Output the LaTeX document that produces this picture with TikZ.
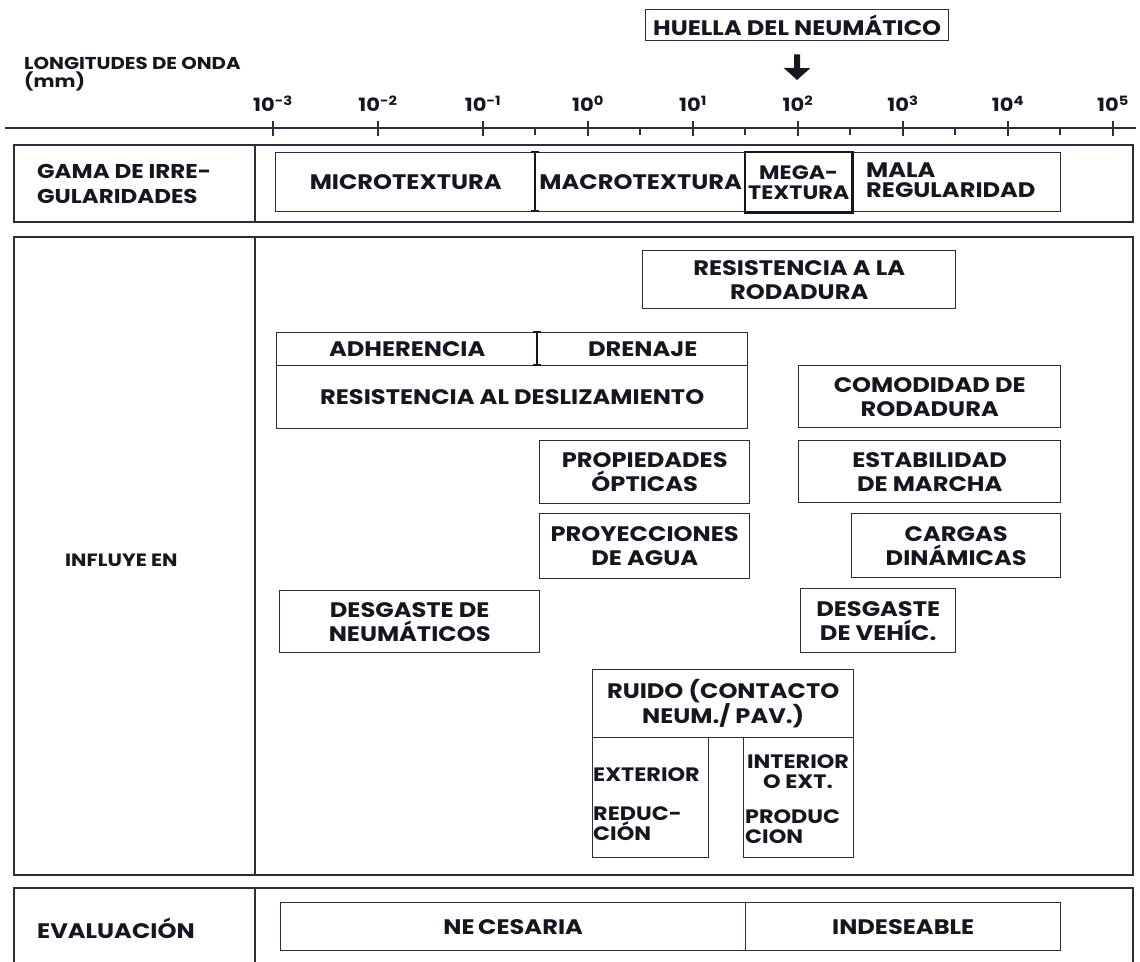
\documentclass[tikz,border=0pt]{standalone}
\usepackage{fontspec}
\setmainfont{Poppins}[FakeStretch=1.15]
\usetikzlibrary{arrows.meta}
\definecolor{ink}{RGB}{22,22,32}
\definecolor{rule}{RGB}{45,45,62}
\newcommand\mkbox[6]{\node[box, minimum width={#4pt-#2pt}, minimum height={#5pt-#3pt}] (#1) at (#2,#3) {#6};}
\begin{document}
\begin{tikzpicture}[x=1pt,y=-1pt,
  txt/.style={text=ink, font=\fontsize{21}{24}\selectfont\bfseries, inner sep=0pt},
  box/.style={txt, draw=rule, line width=1.4pt, anchor=north west, align=center},
  frame/.style={draw=rule, line width=1.4pt},
  lab/.style={txt, anchor=west, align=left},
  side/.style={font=\fontsize{20}{25}\selectfont\bfseries},
  small/.style={font=\fontsize{19.4}{20}\selectfont\bfseries},
]
\useasboundingbox (0,0) rectangle (1140,961);

% header
\node[lab, font=\fontsize{17.2}{20}\selectfont\bfseries] (title) at (24,63) {LONGITUDES DE ONDA};
\node[lab, font=\fontsize{17.2}{20}\selectfont\bfseries] (mm) at (24,81) {(mm)};
\mkbox{huella}{645}{9}{948}{40}{HUELLA DEL NEUMÁTICO}
\coordinate (tip) at (797,80);
\draw[draw=ink, line width=6pt, -{Triangle[width=26pt,length=12pt]}, shorten <=13pt] (huella.south) -- (tip);

% axis
\draw[frame, line width=1.6pt] (5,128) -- (1136,128);
\foreach \k/\e in {0/-3,1/-2,2/-1,3/0,4/1,5/2,6/3,7/4,8/5} {
  \pgfmathsetmacro\xx{273+105*\k}
  \draw[frame, line width=2pt] (\xx,121) -- (\xx,136);
  \node[txt, font=\fontsize{18.3}{20}\selectfont\bfseries] (t\k) at (\xx,104) {10\textsuperscript{\e}};
}
\foreach \k in {0,...,5} {
  \pgfmathsetmacro\xx{535+105*\k}
  \draw[frame, line width=1.6pt] (\xx,128) -- (\xx,135);
}

% gama row
\draw[frame] (14,145) rectangle (1133,222);
\draw[frame] (255,145) -- (255,222);
\node[lab, side] (gama) at (37,184) {GAMA DE IRRE-\\GULARIDADES};
\mkbox{micro}{275}{152}{535}{211}{MICROTEXTURA}
\mkbox{macro}{535}{152}{745}{211}{MACROTEXTURA}
\mkbox{mala}{851}{152}{1060}{211}{}
\node[lab, font=\fontsize{21}{20.5}\selectfont\bfseries] (malat) at (866,180) {MALA\\REGULARIDAD};
\mkbox{mega}{745}{152}{851}{211}{}
\draw[draw=ink, line width=2.2pt] (mega.north west) rectangle (mega.south east);
\node[txt, small, align=center] (megat) at (mega.center) {MEGA-\\TEXTURA};
\draw[draw=ink, line width=2pt] (531,152) -- (539,152) (535,152) -- (535,211) (531,211) -- (539,211);

% influye row
\draw[frame] (14,237) rectangle (1133,875);
\draw[frame] (255,237) -- (255,875);
\node[lab, font=\fontsize{17.8}{20}\selectfont\bfseries] (influye) at (65,560) {INFLUYE EN};
\mkbox{rod}{642}{250}{955}{308}{RESISTENCIA A LA\\RODADURA}
\mkbox{adh}{276}{332}{537}{365}{ADHERENCIA}
\mkbox{dren}{537}{332}{747}{365}{DRENAJE}
\mkbox{desl}{276}{365}{747}{428}{RESISTENCIA AL DESLIZAMIENTO}
\draw[draw=ink, line width=2pt] (533,332) -- (541,332) (537,332) -- (537,365) (533,365) -- (541,365);
\mkbox{com}{798}{365}{1060}{427}{COMODIDAD DE\\RODADURA}
\mkbox{prop}{539}{440}{749}{503}{PROPIEDADES\\ÓPTICAS}
\mkbox{estab}{798}{440}{1060}{502}{ESTABILIDAD\\DE MARCHA}
\mkbox{proy}{539}{513}{749}{578}{PROYECCIONES\\DE AGUA}
\mkbox{carg}{851}{513}{1060}{577}{CARGAS\\DINÁMICAS}
\mkbox{dneu}{279}{590}{539}{652}{DESGASTE DE\\NEUMÁTICOS}
\mkbox{dveh}{800}{588}{955}{652}{DESGASTE\\DE VEHÍC.}
\mkbox{ruido}{592}{669}{853}{737}{RUIDO (CONTACTO\\NEUM./ PAV.)}
\mkbox{ext}{592}{737}{708}{857}{}
\mkbox{int}{743}{737}{853}{857}{}
\node[lab, small] (extt) at (593,775) {EXTERIOR};
\node[lab, small] (reduc) at (593,824) {REDUC-\\CIÓN};
\node[txt, small, align=center] (intt) at (798,772) {INTERIOR\\O EXT.};
\node[lab, small] (produc) at (745,827) {PRODUC\\CION};

% evaluacion row
\draw[frame] (14,975) -- (14,888) -- (1133,888) -- (1133,975);
\draw[frame] (255,888) -- (255,975);
\node[lab] (eval) at (37,928) {EVALUACIÓN};
\mkbox{nec}{280}{902}{745}{950}{NE\,CESARIA}
\mkbox{ind}{745}{902}{1060}{950}{INDESEABLE}
\end{tikzpicture}
\end{document}
